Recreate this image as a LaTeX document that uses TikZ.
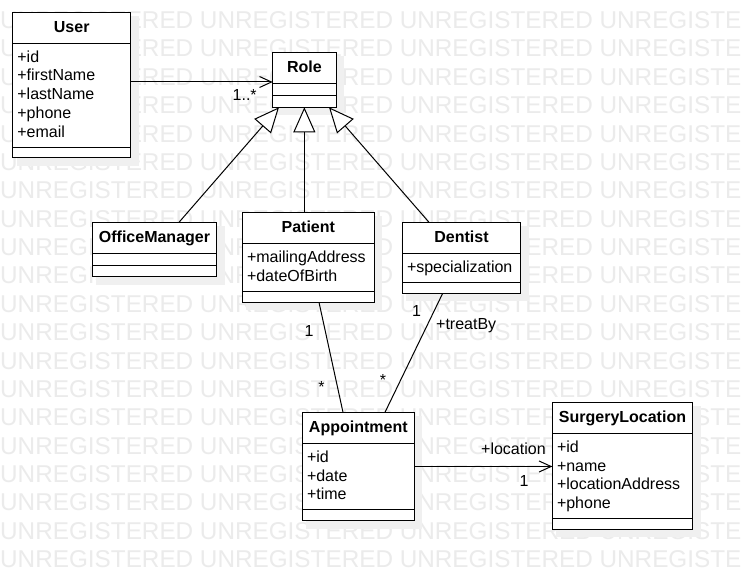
\documentclass[tikz,border=0pt]{standalone}
\usepackage{fontspec}
\setmainfont{Liberation Sans}
\usetikzlibrary{arrows.meta}

% One UML class box: name, left, top, right, bottom, first divider, second divider, title
\newcommand\umlclass[8]{%
  \fill[shadowbox] (#2+4,#3+4) rectangle (#4+8,#5+8);
  \node[classbox, minimum width={(#4-#2)*1pt}, minimum height={(#5-#3)*1pt}]
    (#1) at ({(#2+#4)/2},{(#3+#5)/2}) {};
  \draw[line width=1pt] (#1.west |- 0,#6) -- (#1.east |- 0,#6)
                        (#1.west |- 0,#7) -- (#1.east |- 0,#7);
  \node[titletext, anchor=base] (#1-title) at ({(#2+#4)/2},#3+20.3) {#8};
}
% Attribute lines of a class: name, left edge, first baseline, list
\newcommand\umlattrs[4]{%
  \foreach \txt [count=\i] in {#4}
    \node[attrtext, anchor=base west] (#1-attr\i) at (#2+4.5,{#3+(\i-1)*18.7}) {\txt};
}

\begin{document}
\begin{tikzpicture}[x=1pt,y=-1pt,
  classbox/.style={draw=black, fill=white, line width=1pt, inner sep=0pt, outer sep=0pt},
  shadowbox/.style={fill=black!6},
  titletext/.style={font=\fontsize{16}{19}\selectfont\bfseries, inner sep=0pt},
  attrtext/.style={font=\fontsize{16}{19}\selectfont, inner sep=0pt},
  labeltext/.style={font=\fontsize{16}{19}\selectfont, inner sep=0pt},
  watermark/.style={font=\fontsize{24.3}{29}\selectfont, text=black!8, inner sep=0pt, anchor=base west},
  link/.style={draw=black, line width=1pt},
  assoc/.style={link, -{Straight Barb[length=12pt, width=11pt]}},
  gen/.style={link, -{Triangle[length=25pt, width=22pt, fill=white]}},
]
\useasboundingbox (0,0) rectangle (742,580);
\fill[white] (0,0) rectangle (742,580);

% background watermark rows
\begin{scope}
  \clip (0,0) rectangle (742,580);
  \foreach \k in {0,...,19}
    \node[watermark] (wm\k) at (0,{28.5+28.38*\k})
      {UNREGISTERED UNREGISTERED UNREGISTERED UNREGISTE};
\end{scope}

% classes
\umlclass{user}{12.7}{12.3}{130.7}{158}{43.3}{147.3}{User}
\umlattrs{user}{12.7}{62.3}{+id,+firstName,+lastName,+phone,+email}
\umlclass{role}{272.7}{52.3}{336}{107.3}{83.3}{95.7}{Role}
\umlclass{om}{92.3}{222.3}{216.7}{276.7}{254}{265.7}{OfficeManager}
\umlclass{patient}{242.3}{212.3}{374.3}{302.3}{244}{291.7}{Patient}
\umlattrs{patient}{242.3}{263}{+mailingAddress,+dateOfBirth}
\umlclass{dentist}{402.3}{222.3}{520.7}{293.3}{253.7}{282.7}{Dentist}
\umlattrs{dentist}{402.3}{272.5}{+specialization}
\umlclass{appt}{302.3}{412.3}{414.3}{520.7}{443.3}{509.3}{Appointment}
\umlattrs{appt}{302.3}{462.3}{+id,+date,+time}
\umlclass{loc}{552.3}{402.3}{692.7}{529.3}{433.3}{518.3}{SurgeryLocation}
\umlattrs{loc}{552.3}{452.3}{+id,+name,+locationAddress,+phone}

% User -> Role association
\coordinate (roleIn) at ([yshift=-2.2pt]role.west);
\draw[assoc] (user.east |- roleIn) -- (roleIn);

% generalizations into Role
\draw[gen] ([xshift=24.5pt]om.north) -- ([xshift=6.3pt]role.south west);
\draw[gen] (role.south |- patient.north) -- (role.south);
\draw[gen] ([xshift=-32.5pt]dentist.north) -- ([xshift=-7pt]role.south east);

% associations with Appointment
\draw[link] ([xshift=10.7pt]patient.south) -- ([xshift=-15.3pt]appt.north);
\draw[link] ([xshift=-18.8pt]dentist.south) -- ([xshift=26.7pt]appt.north);
\draw[assoc] (appt.east) -- (appt.east -| loc.west);

% multiplicities and role names
\node[labeltext, anchor=base] (lblUR) at (244.7,100.7) {1..*};
\node[labeltext, anchor=base] (lblP1) at (309,336.5) {1};
\node[labeltext, anchor=base] (lblPs) at (321.5,392) {*};
\node[labeltext, anchor=base] (lblD1) at (416.5,316.5) {1};
\node[labeltext, anchor=base west] (lblTreat) at (436,329) {+treatBy};
\node[labeltext, anchor=base] (lblDs) at (383,385) {*};
\node[labeltext, anchor=base west] (lblLoc) at (481,454) {+location};
\node[labeltext, anchor=base] (lblL1) at (524,486.5) {1};
\end{tikzpicture}
\end{document}
